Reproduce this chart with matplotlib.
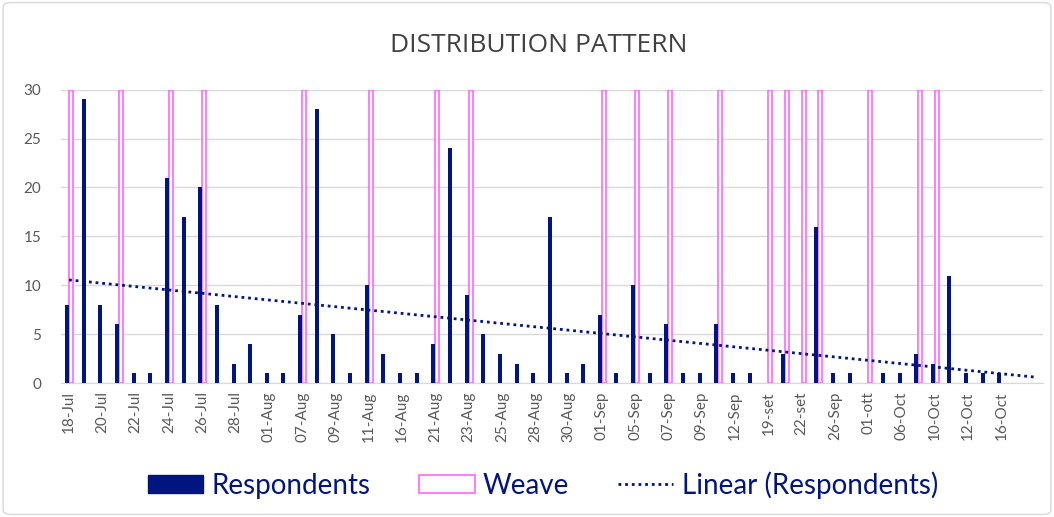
import matplotlib.pyplot as plt
import numpy as np
from matplotlib.patches import Patch, FancyBboxPatch
from matplotlib.lines import Line2D

plt.rcParams['font.family'] = ['Lato', 'DejaVu Sans']

# Data - 59 category slots, labels shown on every other one
tick_labels = ['18-Jul', '20-Jul', '22-Jul', '24-Jul', '26-Jul', '28-Jul', '01-Aug',
               '07-Aug', '09-Aug', '11-Aug', '16-Aug', '21-Aug', '23-Aug', '25-Aug',
               '28-Aug', '30-Aug', '01-Sep', '05-Sep', '07-Sep', '09-Sep', '12-Sep',
               '19-set', '22-set', '26-Sep', '01-ott', '06-Oct', '10-Oct', '12-Oct',
               '16-Oct']
n_slots = 59

respondents = [8, 29, 8, 6, 1, 1, 21, 17, 20, 8, 2, 4, 1, 1, 7, 28, 5, 1, 10, 3,
               1, 1, 4, 24, 9, 5, 3, 2, 1, 17, 1, 2, 7, 1, 10, 1, 6, 1, 1, 6,
               1, 1, 0, 3, 0, 16, 1, 1, 0, 1, 1, 3, 2, 11, 1, 1, 1]

weave_idx = [0, 3, 6, 8, 14, 18, 22, 24, 32, 34, 36, 39, 42, 43, 44, 45, 48, 51, 52]
weave_val = 30

navy = '#001580'
pink = '#ff66ff'
grey = '#595959'

fig = plt.figure(figsize=(10.54, 5.17), dpi=100)
ax = fig.add_axes([0.0576, 0.259, 0.932, 0.5675])

x = np.arange(len(respondents))
w = 0.24
ax.bar(x - w / 2, respondents, width=w, color=navy, zorder=3)
ax.bar(np.array(weave_idx) + w / 2, [weave_val] * len(weave_idx), width=w,
       facecolor='white', edgecolor=pink, linewidth=1.2, zorder=2)

# linear trendline, extended over all category slots
k, b = np.polyfit(x, respondents, 1)
xt = np.arange(n_slots)
ax.plot(xt, k * xt + b, color=navy, lw=2, linestyle=(0, (1, 1.4)), zorder=4)

ax.set_xlim(-0.5, n_slots - 0.5)
ax.set_ylim(0, 30)
ax.set_yticks(range(0, 31, 5))
ax.set_xticks(range(0, 2 * len(tick_labels), 2))
ax.set_xticklabels(tick_labels, rotation=90)
ax.tick_params(axis='both', length=0, colors=grey, labelsize=11)
ax.tick_params(axis='x', pad=6)
ax.tick_params(axis='y', pad=14)
ax.grid(axis='y', color='#d9d9d9', lw=1, zorder=0)
for s in ['left', 'right', 'top']:
    ax.spines[s].set_visible(False)
ax.spines['bottom'].set_color('#d9d9d9')

fig.text(0.511, 0.912, 'DISTRIBUTION PATTERN', ha='center', va='center',
         fontsize=19, color='#404040', family=['Open Sans', 'DejaVu Sans'])

handles = [Patch(facecolor=navy, edgecolor=navy),
           Patch(facecolor='white', edgecolor=pink, linewidth=1.2),
           Line2D([], [], color=navy, lw=2, linestyle=(0, (1, 1.4)))]
fig.legend(handles, ['Respondents', 'Weave', 'Linear (Respondents)'],
           loc='center', bbox_to_anchor=(0.515, 0.062), ncol=3, frameon=False,
           fontsize=20, labelcolor=navy, handlelength=2.0, handleheight=0.6,
           columnspacing=1.75, handletextpad=0.3)

border = FancyBboxPatch((0.003, 0.005), 0.994, 0.99, boxstyle='round,pad=0,rounding_size=0.008',
                        transform=fig.transFigure, facecolor='none', edgecolor='#d9d9d9', lw=1)
fig.patches.append(border)

fig.savefig('out.png', dpi=100)
